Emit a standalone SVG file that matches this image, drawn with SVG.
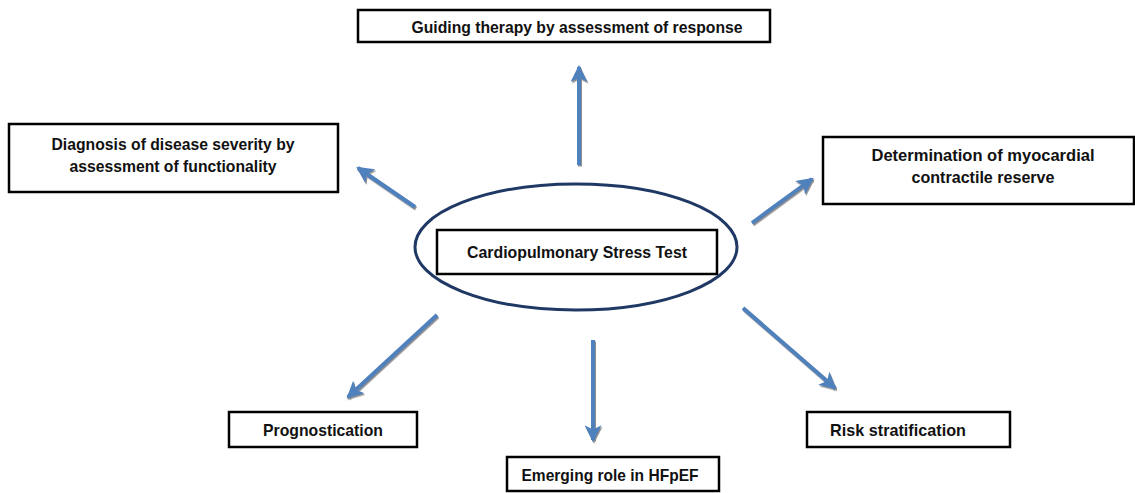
<svg xmlns="http://www.w3.org/2000/svg" width="1135" height="493" viewBox="0 0 1135 493">
<style>
.box{fill:#fff;stroke:#000;stroke-width:2.5}
.t{font-family:"Liberation Sans",Arial,sans-serif;font-weight:bold;font-size:17px;fill:#111;text-anchor:middle}
.arr{stroke:#4f81bd;stroke-width:4;fill:none;marker-end:url(#ah)}
</style>
<defs>
<marker id="ah" markerUnits="userSpaceOnUse" viewBox="0 0 16 16" markerWidth="17" markerHeight="17" refX="14" refY="8" orient="auto">
<path d="M0,0 L16,8 L0,16 L4,8 z" fill="#4f81bd"/>
</marker>
<filter id="sh" x="-20%" y="-20%" width="140%" height="140%">
<feDropShadow dx="1" dy="1.5" stdDeviation="0.6" flood-color="#808080" flood-opacity="0.9"/>
</filter>
</defs>
<rect width="1135" height="493" fill="#fff"/>
<g id="connectors" filter="url(#sh)">
<line class="arr" x1="579" y1="165" x2="579" y2="67"/>
<line class="arr" x1="415" y1="207" x2="358" y2="168"/>
<line class="arr" x1="752" y1="223" x2="812" y2="179"/>
<line class="arr" x1="437" y1="315" x2="348" y2="397"/>
<line class="arr" x1="593" y1="340" x2="593" y2="440"/>
<line class="arr" x1="743" y1="308" x2="835" y2="388"/>
</g>
<g id="center">
<ellipse cx="576" cy="247" rx="161" ry="63" fill="#fff" stroke="#1f3864" stroke-width="3"/>
<rect class="box" x="437" y="230" width="280" height="44"/>
<text class="t" x="577" y="258" textLength="220" lengthAdjust="spacingAndGlyphs">Cardiopulmonary Stress Test</text>
</g>
<g id="guiding">
<rect class="box" x="358" y="10" width="412" height="32"/>
<text class="t" x="577" y="33" textLength="331" lengthAdjust="spacingAndGlyphs">Guiding therapy by assessment of response</text>
</g>
<g id="diagnosis">
<rect class="box" x="9" y="124" width="329" height="68"/>
<text class="t" x="173" y="150" textLength="243" lengthAdjust="spacingAndGlyphs">Diagnosis of disease severity by</text>
<text class="t" x="173" y="172" textLength="207" lengthAdjust="spacingAndGlyphs">assessment of functionality</text>
</g>
<g id="determination">
<rect class="box" x="823" y="137" width="311" height="67"/>
<text class="t" x="983" y="161" textLength="223" lengthAdjust="spacingAndGlyphs">Determination of myocardial</text>
<text class="t" x="983" y="183" textLength="143" lengthAdjust="spacingAndGlyphs">contractile reserve</text>
</g>
<g id="prognostication">
<rect class="box" x="229" y="412" width="188" height="35"/>
<text class="t" x="323" y="436" textLength="120" lengthAdjust="spacingAndGlyphs">Prognostication</text>
</g>
<g id="emerging">
<rect class="box" x="507" y="457" width="212" height="34"/>
<text class="t" x="610" y="481" textLength="177" lengthAdjust="spacingAndGlyphs">Emerging role in HFpEF</text>
</g>
<g id="risk">
<rect class="box" x="807" y="412" width="203" height="35"/>
<text class="t" x="898" y="436" textLength="136" lengthAdjust="spacingAndGlyphs">Risk stratification</text>
</g>
</svg>
